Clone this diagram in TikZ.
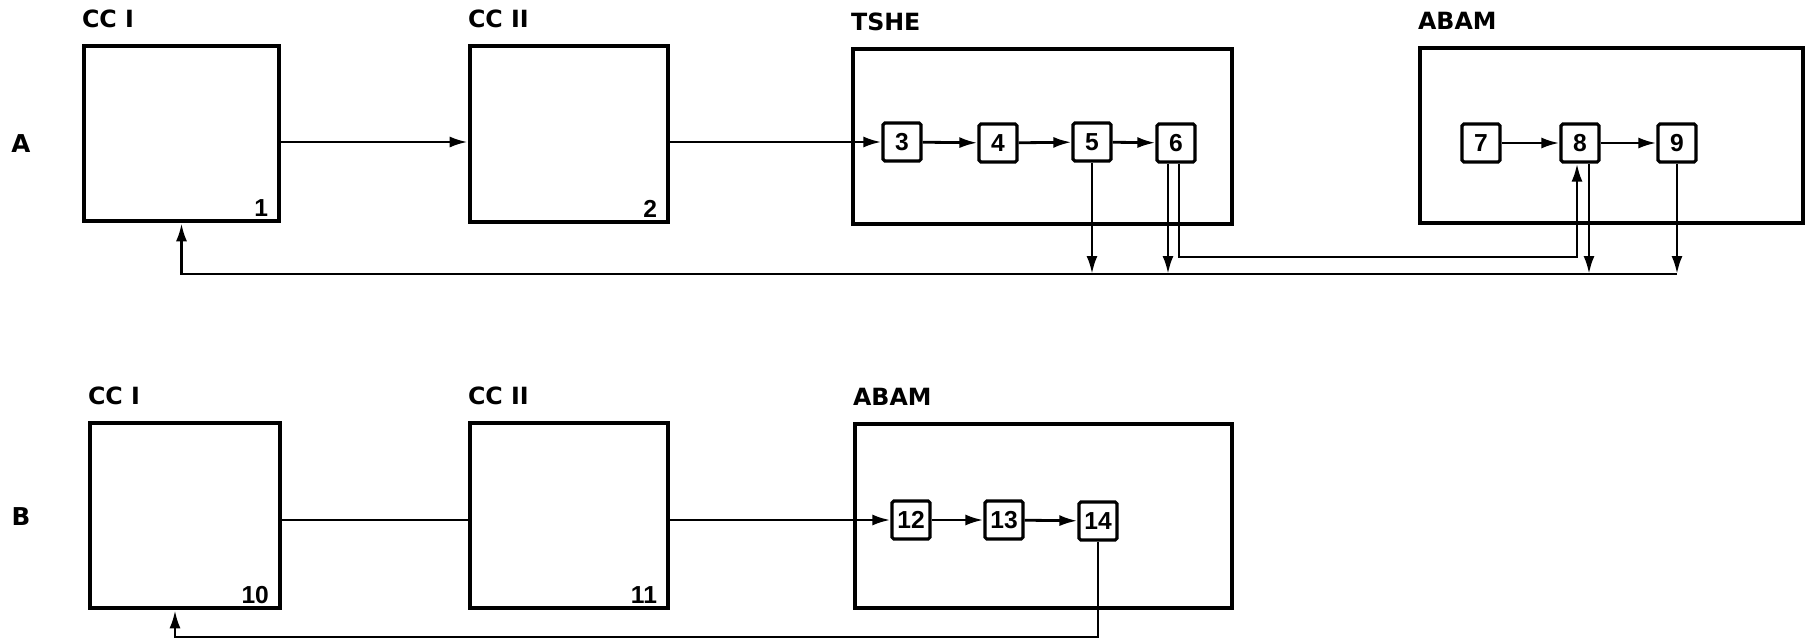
\documentclass[tikz,border=0pt]{standalone}
\usepackage{fontspec}
\setmainfont{DejaVu Sans}
\newfontfamily\numfont{Liberation Sans}
\usetikzlibrary{arrows.meta,fit,positioning}

\begin{document}
\begin{tikzpicture}[x=0.2mm, y=-0.2mm,
  >={Latex[length=3.6mm,width=2.2mm]},
  unit/.style={draw, line width=2.6pt, inner sep=0pt},
  cell/.style={draw, line width=1.8pt, rounded corners=1pt, minimum size=7.6mm,
    inner sep=0pt, font=\numfont\bfseries\fontsize{14}{14}\selectfont},
  title/.style={anchor=south west, inner sep=0pt, yshift=3.2mm,
    font=\bfseries\fontsize{13.5}{13.5}\selectfont},
  tag/.style={anchor=south east, inner sep=0pt, xshift=-2.6mm, yshift=1.2mm,
    font=\numfont\bfseries\fontsize{14}{14}\selectfont},
  flow/.style={line width=1.6pt}]
  \useasboundingbox (0,0) rectangle (1806,643);

  % Row A
  \node[font=\bfseries\fontsize{14}{14}\selectfont] (rowA) at (21,144) {A};

  \node[unit, fit={(84,46) (279,221)}] (cc1a) {};
  \node[unit, fit={(470,46) (668,222)}] (cc2a) {};
  \node[unit, fit={(853,49) (1232,224)}] (tshe) {};
  \node[unit, fit={(1420,48) (1803,223)}] (abama) {};

  \node[title] (lcc1a) at (cc1a.north west) {CC I};
  \node[title] (lcc2a) at (cc2a.north west) {CC II};
  \node[title] (ltshe) at (tshe.north west) {TSHE};
  \node[title] (labama) at (abama.north west) {ABAM};
  \node[tag] (t1) at (cc1a.south east) {1};
  \node[tag] (t2) at (cc2a.south east) {2};

  \node[cell] (c3) at (902,142) {3};
  \node[cell] (c4) at (998,143) {4};
  \node[cell] (c5) at (1092,142) {5};
  \node[cell] (c6) at (1176,143) {6};
  \node[cell] (c7) at (1481,143) {7};
  \node[cell] (c8) at (1580,143) {8};
  \node[cell] (c9) at (1677,143) {9};

  % Flow A
  \draw[flow, ->] (cc1a.east |- c3) -- (cc2a.west |- c3);
  \draw[flow, ->] (cc2a.east |- c3) -- (c3);
  \draw[flow, ->] (c3) -- (c4);
  \draw[flow, ->] (c4) -- (c5);
  \draw[flow, ->] (c5) -- (c6);
  \draw[flow, ->] (c7) -- (c8);
  \draw[flow, ->] (c8) -- (c9);

  % Return lines A
  \coordinate (lowA) at (0,274);
  \coordinate (upA) at (0,257);
  \draw[flow, ->] (c5) -- (c5 |- lowA);
  \draw[flow, ->] ([xshift=-1.6mm]c6.south) -- ([xshift=-1.6mm]c6.south |- lowA);
  \draw[flow, ->] ([xshift=0.6mm]c6.south) |- ([xshift=-0.6mm]c8.south |- upA)
    -- ([xshift=-0.6mm]c8.south);
  \draw[flow, ->] ([xshift=1.8mm]c8.south) -- ([xshift=1.8mm]c8.south |- lowA);
  \draw[flow, ->] (c9) -- (c9 |- lowA);
  \draw[flow, ->] (c9 |- lowA) -| (cc1a.south);

  % Row B
  \node[font=\bfseries\fontsize{14}{14}\selectfont] (rowB) at (21,517) {B};

  \node[unit, fit={(90,423) (280,608)}] (cc1b) {};
  \node[unit, fit={(470,423) (668,608)}] (cc2b) {};
  \node[unit, fit={(855,424) (1232,608)}] (abamb) {};

  \node[title] (lcc1b) at (cc1b.north west) {CC I};
  \node[title] (lcc2b) at (cc2b.north west) {CC II};
  \node[title] (labamb) at (abamb.north west) {ABAM};
  \node[tag] (t10) at (cc1b.south east) {10};
  \node[tag] (t11) at (cc2b.south east) {11};

  \node[cell] (c12) at (911,520) {12};
  \node[cell] (c13) at (1004,520) {13};
  \node[cell] (c14) at (1098,521) {14};

  % Flow B
  \draw[flow] (cc1b.east |- c12) -- (cc2b.west |- c12);
  \draw[flow, ->] (cc2b.east |- c12) -- (c12);
  \draw[flow, ->] (c12) -- (c13);
  \draw[flow, ->] (c13) -- (c14);

  % Return line B
  \coordinate (lowB) at (0,637);
  \draw[flow, ->] (c14) |- ([xshift=-2mm]cc1b.south |- lowB)
    -- ([xshift=-2mm]cc1b.south);
\end{tikzpicture}
\end{document}
